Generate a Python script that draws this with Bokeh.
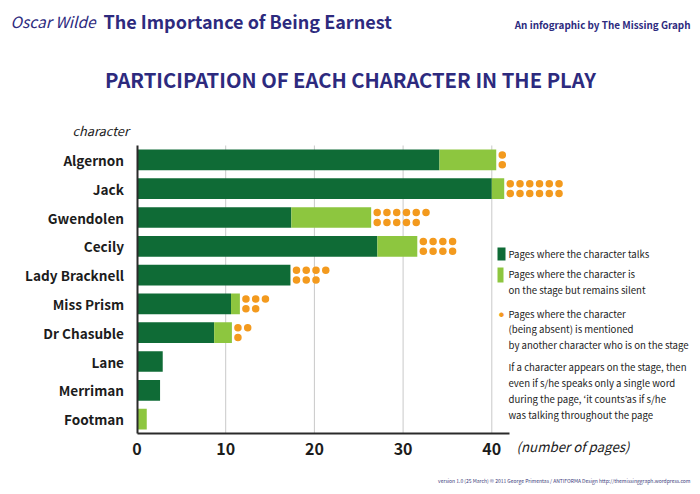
from bokeh.plotting import figure
from bokeh.models import Range1d, FixedTicker, Label, BoxAnnotation, ColumnDataSource, LinearAxis
from bokeh.embed import file_html
from bokeh.resources import INLINE

# ---------------- data ----------------
characters = ["Algernon", "Jack", "Gwendolen", "Cecily", "Lady Bracknell",
              "Miss Prism", "Dr Chasuble", "Lane", "Merriman", "Footman"]
talks = [34.1, 40.0, 17.4, 27.1, 17.3, 10.6, 8.7, 2.9, 2.6, 0.0]
silent = [6.4, 1.4, 9.0, 4.5, 0.0, 1.0, 2.0, 0.0, 0.0, 1.1]
mentioned = [2, 12, 11, 8, 7, 5, 3, 0, 0, 0]
x_ticks = [0, 10, 20, 30, 40]

# ---------------- style ----------------
DARK = "#0f6b36"
LIGHT = "#8dc63f"
ORANGE = "#f39a1e"
NAVY = "#2d2a7e"
INK = "#1c1c1c"
FONT = "Noto Sans CJK JP"

ys = [i + 0.5 for i in range(len(characters))]
totals = [t + s for t, s in zip(talks, silent)]

W, H = 700, 494
PX = 8.87          # pixels per page
X0 = 136.5         # canvas x of zero pages
ROW = 28.8         # pixels per character row
Y0 = 145.0         # canvas y of the top of the plotting area

p = figure(width=W, height=H,
           x_range=Range1d(-X0 / PX, (W - X0) / PX),
           y_range=Range1d((H - Y0) / ROW, -Y0 / ROW),
           x_axis_type=None, y_axis_type=None,
           output_backend="svg", toolbar_location=None,
           min_border=0, min_border_left=0, min_border_right=0,
           min_border_top=0, min_border_bottom=0)
p.outline_line_color = None
p.background_fill_color = "white"
p.border_fill_color = "white"
p.xgrid.visible = False
p.ygrid.visible = False

# vertical grid lines
p.segment(x0=x_ticks[1:], x1=x_ticks[1:], y0=[0] * 4, y1=[len(characters)] * 4,
          line_color="#c9c9c9", line_width=1)

src = ColumnDataSource(dict(y=ys, talks=talks, totals=totals, name=characters))
p.hbar(y="y", left=0, right="talks", height=0.72, source=src,
       fill_color=DARK, line_color=None)
p.hbar(y="y", left="talks", right="totals", height=0.72, source=src,
       fill_color=LIGHT, line_color=None)

# dots for "mentioned" pages: filled column by column, two rows
dx, dy = [], []
for y, tot, n in zip(ys, totals, mentioned):
    for k in range(n):
        col, row = k // 2, k % 2
        dx.append(tot + 0.68 + col * 1.1)
        dy.append(y - 0.17 if row == 0 else y + 0.17)
p.scatter(x=dx, y=dy, size=7.5, marker="circle", fill_color=ORANGE, line_color=None)

# axes
xaxis = LinearAxis(fixed_location=len(characters), bounds=(0, 42),
                   ticker=FixedTicker(ticks=x_ticks))
xaxis.major_tick_line_color = None
xaxis.minor_tick_line_color = None
xaxis.axis_line_color = "#2a2a2a"
xaxis.axis_line_width = 2
xaxis.major_label_text_font = FONT
xaxis.major_label_text_font_style = "bold"
xaxis.major_label_text_font_size = "16px"
xaxis.major_label_text_color = INK
xaxis.major_label_standoff = 3
p.add_layout(xaxis, "below")

yaxis = LinearAxis(fixed_location=0, bounds=(0, len(characters)),
                   ticker=FixedTicker(ticks=ys))
yaxis.major_label_overrides = {y: c for y, c in zip(ys, characters)}
yaxis.major_tick_line_color = None
yaxis.minor_tick_line_color = None
yaxis.axis_line_color = "#2a2a2a"
yaxis.axis_line_width = 2
yaxis.major_label_text_font = FONT
yaxis.major_label_text_font_style = "bold"
yaxis.major_label_text_font_size = "13.6px"
yaxis.major_label_text_color = INK
yaxis.major_label_standoff = 7
p.add_layout(yaxis, "left")


def lab(text, x, y, size, style="normal", color=INK, align="left", baseline="middle"):
    p.add_layout(Label(x=x, y=y, x_units="canvas", y_units="canvas", text=text,
                       text_font=FONT, text_font_size=size, text_font_style=style,
                       text_color=color, text_align=align, text_baseline=baseline))


# titles
lab("Oscar Wilde", 10, 20, "15.5px", "italic", NAVY)
lab("The Importance of Being Earnest", 103, 20, "18px", "bold", NAVY)
lab("An infographic by The Missing Graph", 690, 24, "9.9px", "bold", NAVY, align="right")
lab("PARTICIPATION OF EACH CHARACTER IN THE PLAY", 350, 79, "20.2px", "bold", NAVY,
    align="center")

# axis captions
lab("character", 72, 130, "12.8px", "italic")
lab("(number of pages)", 516, 446, "13.3px", "italic")

# legend
for top, bottom, right, col in ((247, 260, 505, DARK), (267, 282, 503, LIGHT)):
    p.add_layout(BoxAnnotation(left=497, right=right, top=top, bottom=bottom,
                               left_units="canvas", right_units="canvas",
                               top_units="canvas", bottom_units="canvas",
                               fill_color=col, fill_alpha=1, line_color=None))
lab("\u25CF", 501, 313, "5px", color=ORANGE, align="center")

LS = "9.6px"
lab("Pages where the character talks", 508, 253, LS)
lab("Pages where the character is", 508, 273, LS)
lab("on the stage but remains silent", 508, 289, LS)
lab("Pages where the character", 508, 313, LS)
lab("(being absent) is mentioned", 508, 328, LS)
lab("by another character who is on the stage", 508, 344, LS)
lab("If a character appears on the stage, then", 508, 366, LS)
lab("even if s/he speaks only a single word", 508, 382, LS)
lab("during the page, \u2018it counts\u2019as if s/he", 508, 398, LS)
lab("was talking throughout the page", 508, 414, LS)

lab("version 1.0 (25 March) \u00A9 2011 George Primentas / ANTIFORMA Design http://themissinggraph.wordpress.com",
    690, 480, "5px", color="#3a3a7a", align="right")

open("out.html", "w").write(file_html(p, INLINE))
